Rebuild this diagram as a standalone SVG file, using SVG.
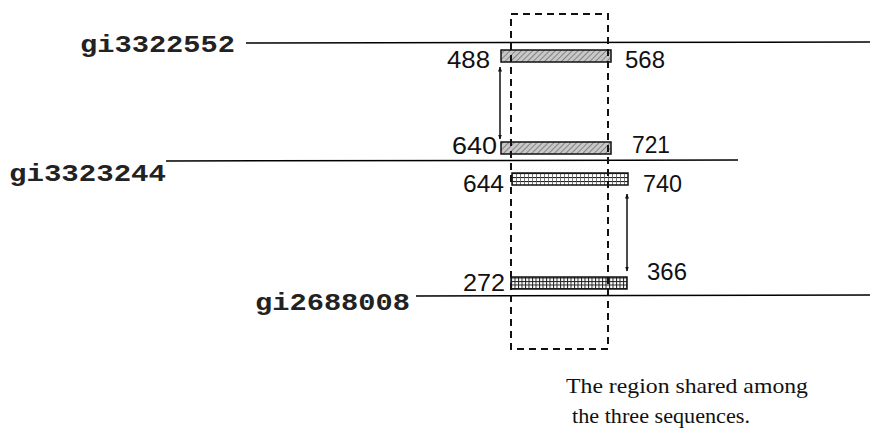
<svg xmlns="http://www.w3.org/2000/svg" width="889" height="435" viewBox="0 0 889 435">
<style>
.seq{stroke:#000;stroke-width:1.5;fill:none}
.lab{font-family:"Liberation Mono",monospace;font-weight:bold;font-size:23px;fill:#222}
.num{font-family:"Liberation Sans",Arial,sans-serif;font-size:23px;fill:#111}
.cap{font-family:"Liberation Serif","Times New Roman",serif;font-size:22px;fill:#111}
.dash{stroke:#111;stroke-width:2;fill:none;stroke-dasharray:7 5}
.arr{stroke:#111;stroke-width:1.5;fill:none;marker-start:url(#ah);marker-end:url(#ah)}
.bar{stroke:#111;stroke-width:1.5}
</style>
<defs>
<pattern id="diag" patternUnits="userSpaceOnUse" width="4" height="4" patternTransform="rotate(45)">
<rect width="4" height="4" fill="#c8c8c8"/>
<line x1="0" y1="0" x2="0" y2="4" stroke="#555" stroke-width="1.2"/>
</pattern>
<pattern id="ladder" patternUnits="userSpaceOnUse" width="4" height="4" y="1">
<rect width="4" height="4" fill="#fff"/>
<line x1="0" y1="0.5" x2="4" y2="0.5" stroke="#222" stroke-width="1.2"/>
<line x1="0.5" y1="0" x2="0.5" y2="4" stroke="#555" stroke-width="0.8"/>
</pattern>
<pattern id="grid" patternUnits="userSpaceOnUse" width="3.5" height="3.5" y="1">
<rect width="3.5" height="3.5" fill="#fff"/>
<line x1="0" y1="0.5" x2="3.5" y2="0.5" stroke="#222" stroke-width="1"/>
<line x1="0.5" y1="0" x2="0.5" y2="3.5" stroke="#222" stroke-width="1"/>
</pattern>
<marker id="ah" viewBox="0 0 10 10" refX="9" refY="5" markerWidth="5" markerHeight="5" orient="auto-start-reverse" markerUnits="userSpaceOnUse">
<path d="M0,1 L10,5 L0,9 z" fill="#111"/>
</marker>
</defs>
<g id="connectors">
<line class="arr" x1="500" y1="67" x2="500" y2="139"/>
<line class="arr" x1="627" y1="194" x2="627" y2="271"/>
</g>
<g id="seq1">
<text class="lab" x="80" y="52" textLength="155" lengthAdjust="spacingAndGlyphs">gi3322552</text>
<line class="seq" x1="246" y1="43" x2="870" y2="42"/>
</g>
<g id="seq2">
<text class="lab" x="9" y="181" textLength="157" lengthAdjust="spacingAndGlyphs">gi3323244</text>
<line class="seq" x1="166" y1="161" x2="738" y2="160"/>
</g>
<g id="seq3">
<text class="lab" x="255" y="310" textLength="155" lengthAdjust="spacingAndGlyphs">gi2688008</text>
<line class="seq" x1="416" y1="296" x2="870" y2="295"/>
</g>
<g id="bar1">
<rect class="bar" x="501" y="50" width="110" height="12" fill="url(#diag)"/>
<text class="num" x="447" y="68" textLength="43" lengthAdjust="spacingAndGlyphs">488</text>
<text class="num" x="625" y="68" textLength="40" lengthAdjust="spacingAndGlyphs">568</text>
</g>
<g id="bar2">
<rect class="bar" x="501" y="142" width="110" height="12" fill="url(#diag)"/>
<text class="num" x="452" y="154" textLength="45" lengthAdjust="spacingAndGlyphs">640</text>
<text class="num" x="632" y="153" textLength="38" lengthAdjust="spacingAndGlyphs">721</text>
</g>
<g id="bar3">
<rect class="bar" x="512" y="173" width="116" height="12" fill="url(#ladder)"/>
<text class="num" x="463" y="192" textLength="41" lengthAdjust="spacingAndGlyphs">644</text>
<text class="num" x="643" y="192" textLength="39" lengthAdjust="spacingAndGlyphs">740</text>
</g>
<g id="bar4">
<rect class="bar" x="511" y="277" width="116" height="12" fill="url(#grid)"/>
<text class="num" x="463" y="291" textLength="42" lengthAdjust="spacingAndGlyphs">272</text>
<text class="num" x="647" y="280" textLength="40" lengthAdjust="spacingAndGlyphs">366</text>
</g>
<g id="region">
<rect class="dash" x="511" y="14" width="97" height="335"/>
<text class="cap" x="566" y="393" textLength="242" lengthAdjust="spacingAndGlyphs">The region shared among</text>
<text class="cap" x="572" y="423" textLength="178" lengthAdjust="spacingAndGlyphs">the three sequences.</text>
</g>
</svg>
